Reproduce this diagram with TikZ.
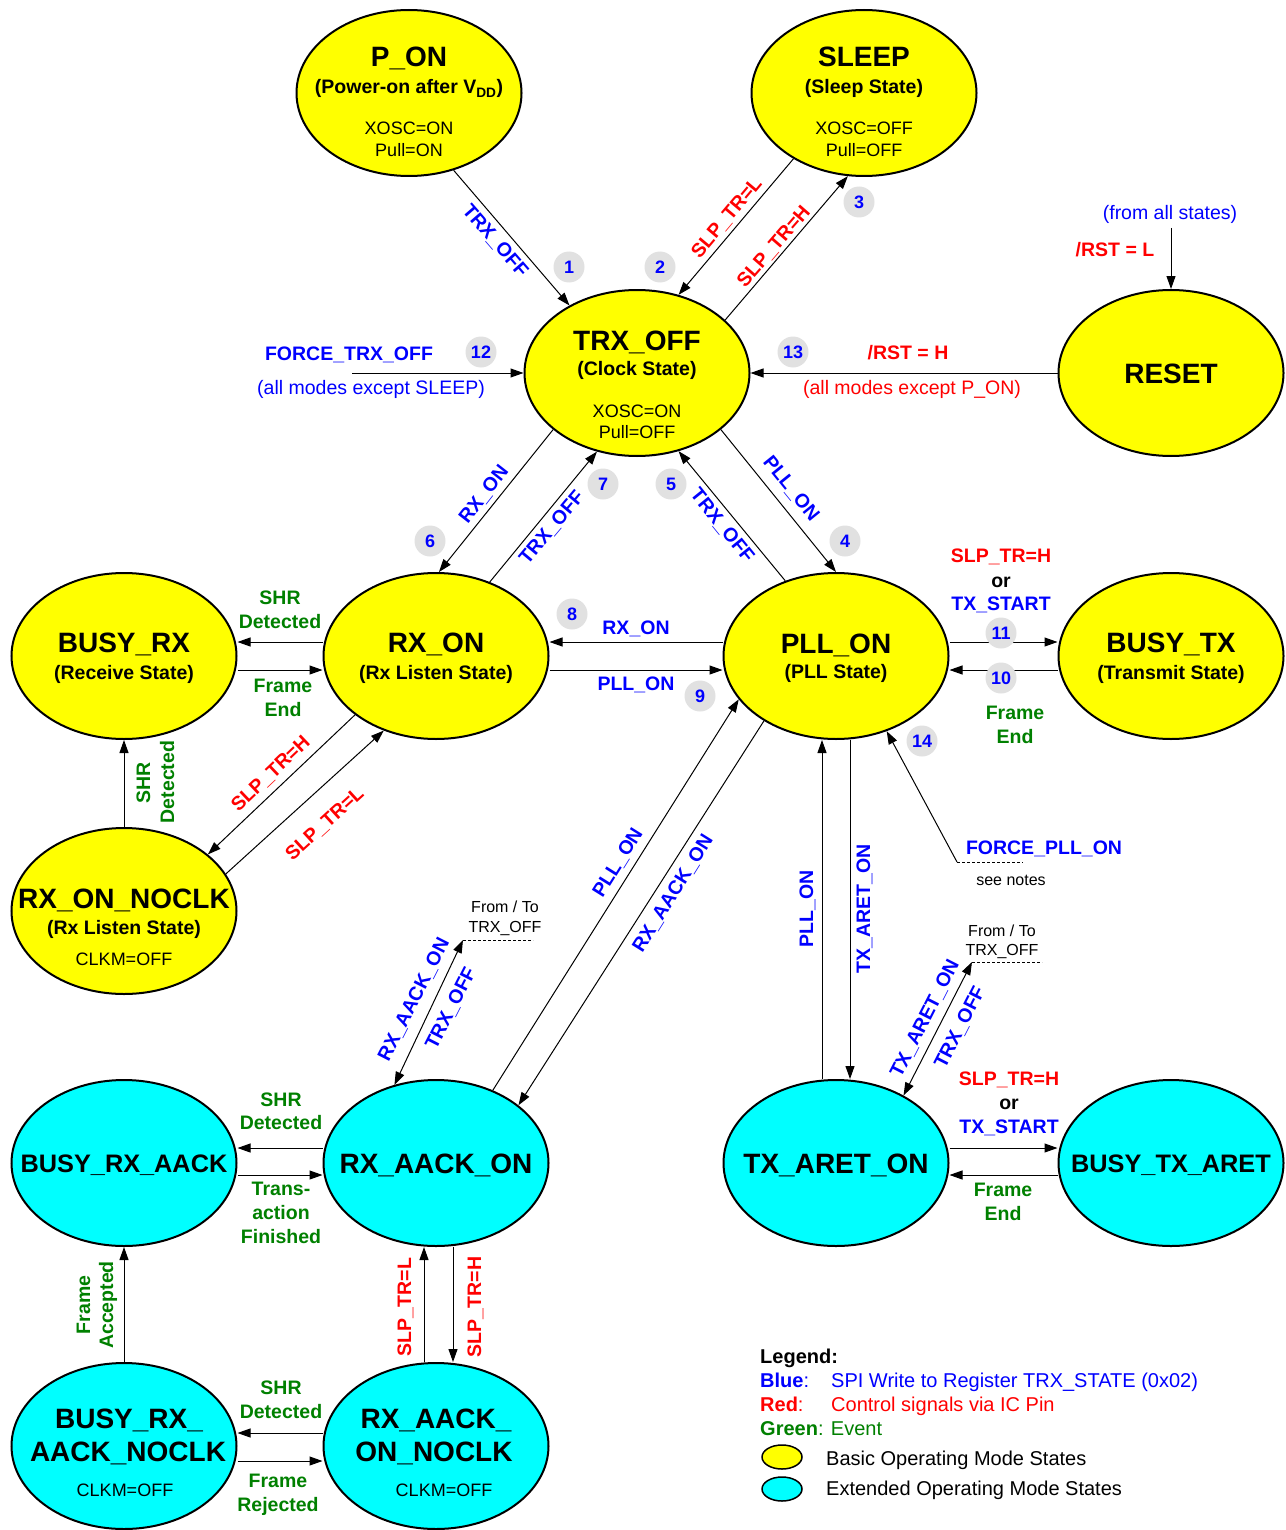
\documentclass[tikz,border=0pt]{standalone}
\usepackage{fontspec}
\setmainfont{Liberation Sans}
\usetikzlibrary{arrows.meta,calc,shapes.geometric}
\definecolor{cblue}{RGB}{0,0,255}
\definecolor{cred}{RGB}{255,0,0}
\definecolor{cgreen}{RGB}{0,128,0}
\definecolor{cyel}{RGB}{255,255,0}
\definecolor{ccyan}{RGB}{0,255,255}
\definecolor{cbadge}{RGB}{225,225,225}
\newcommand\fTitle{\fontsize{28}{32}\selectfont\bfseries}
\newcommand\fTitleS{\fontsize{25.3}{30}\selectfont\bfseries}
\newcommand\fSub{\fontsize{19.5}{24}\selectfont\bfseries}
\newcommand\fReg{\fontsize{18}{22}\selectfont}
\newcommand\fLab{\fontsize{19.5}{24}\selectfont\bfseries}
\newcommand\fBadge{\fontsize{18}{22}\selectfont\bfseries}
\newcommand\fNote{\fontsize{16}{20}\selectfont}
\newcommand\fPlain{\fontsize{19.5}{24}\selectfont}
\newcommand\fLegd{\fontsize{20}{24}\selectfont}
\begin{document}
\begin{tikzpicture}[x=1pt,y=-1pt,
  st/.style={ellipse,draw=black,line width=2pt,minimum width=225pt,minimum height=166pt,inner sep=0pt},
  basic/.style={st,fill=cyel},
  ext/.style={st,fill=ccyan},
  tt/.style={font=\fTitle,inner sep=0pt,text height=20pt,text depth=0pt},
  tts/.style={font=\fTitleS,inner sep=0pt,text height=18pt,text depth=0pt},
  sb/.style={font=\fSub,inner sep=0pt,text height=14pt,text depth=0pt},
  rg/.style={font=\fReg,inner sep=0pt,text height=13pt,text depth=0pt},
  lb/.style={font=\fLab,inner sep=0pt,text height=14pt,text depth=0pt},
  pl/.style={font=\fPlain,inner sep=0pt,text height=14pt,text depth=0pt},
  lgd/.style={font=\fLegd,inner sep=0pt,text height=14pt,text depth=0pt,anchor=west},
  nt/.style={font=\fNote,inner sep=0pt,text height=11.5pt,text depth=0pt},
  bl/.style={text=cblue}, rd/.style={text=cred}, gn/.style={text=cgreen},
  arr/.style={draw=black,line width=1pt,-{Triangle[length=13pt,width=9pt]}},
  darr/.style={draw=black,line width=1pt,{Triangle[length=13pt,width=9pt]}-{Triangle[length=13pt,width=9pt]}},
  dsh/.style={draw=black,line width=1pt,dash pattern=on 3pt off 2pt},
  bdg/.style={circle,fill=cbadge,minimum size=31pt,inner sep=0pt,font=\fBadge,text=cblue,text height=13pt,text depth=0pt},
]
\useasboundingbox (0,0) rectangle (1285,1530);

% ---------- states ----------
\node[basic] (pon) at (409,93) {};
\node[basic] (sleep) at (864,93) {};
\node[basic] (trxoff) at (637,373) {};
\node[basic] (reset) at (1171,373) {};
\node[basic] (busyrx) at (124,656) {};
\node[basic] (rxon) at (436,656) {};
\node[basic] (pllon) at (836,656) {};
\node[basic] (busytx) at (1171,656) {};
\node[basic] (rxonnoclk) at (124,911) {};
\node[ext] (busyrxaack) at (124,1163) {};
\node[ext] (rxaackon) at (436,1163) {};
\node[ext] (txareton) at (836,1163) {};
\node[ext] (busytxaret) at (1171,1163) {};
\node[ext] (busyrxaacknoclk) at (124,1446) {};
\node[ext] (rxaackonnoclk) at (436,1446) {};

% ---------- state texts ----------
\node[tt] (pon-t) at ($(pon)+(0,-36)$) {P\_ON};
\node[sb] (pon-s) at ($(pon)+(0,-6)$) {(Power-on after V\textsubscript{DD})};
\node[rg] (pon-x) at ($(pon)+(0,35)$) {XOSC=ON};
\node[rg] (pon-p) at ($(pon)+(0,57)$) {Pull=ON};

\node[tt] (sleep-t) at ($(sleep)+(0,-36)$) {SLEEP};
\node[sb] (sleep-s) at ($(sleep)+(0,-6)$) {(Sleep State)};
\node[rg] (sleep-x) at ($(sleep)+(0,35)$) {XOSC=OFF};
\node[rg] (sleep-p) at ($(sleep)+(0,57)$) {Pull=OFF};

\node[tt] (trxoff-t) at ($(trxoff)+(0,-33)$) {TRX\_OFF};
\node[sb] (trxoff-s) at ($(trxoff)+(0,-5)$) {(Clock State)};
\node[rg] (trxoff-x) at ($(trxoff)+(0,38)$) {XOSC=ON};
\node[rg] (trxoff-p) at ($(trxoff)+(0,59)$) {Pull=OFF};

\node[tt] (reset-t) at (reset) {RESET};

\node[tt] (busyrx-t) at ($(busyrx)+(0,-14)$) {BUSY\_RX};
\node[sb] (busyrx-s) at ($(busyrx)+(0,16)$) {(Receive State)};
\node[tt] (rxon-t) at ($(rxon)+(0,-14)$) {RX\_ON};
\node[sb] (rxon-s) at ($(rxon)+(0,16)$) {(Rx Listen State)};
\node[tt] (pllon-t) at ($(pllon)+(0,-13)$) {PLL\_ON};
\node[sb] (pllon-s) at ($(pllon)+(0,15)$) {(PLL State)};
\node[tt] (busytx-t) at ($(busytx)+(0,-14)$) {BUSY\_TX};
\node[sb] (busytx-s) at ($(busytx)+(0,16)$) {(Transmit State)};

\node[tt] (rxonnoclk-t) at ($(rxonnoclk)+(0,-13)$) {RX\_ON\_NOCLK};
\node[sb] (rxonnoclk-s) at ($(rxonnoclk)+(0,16)$) {(Rx Listen State)};
\node[rg] (rxonnoclk-c) at ($(rxonnoclk)+(0,48)$) {CLKM=OFF};

\node[tts] (busyrxaack-t) at (busyrxaack) {BUSY\_RX\_AACK};
\node[tt] (rxaackon-t) at (rxaackon) {RX\_AACK\_ON};
\node[tt] (txareton-t) at (txareton) {TX\_ARET\_ON};
\node[tts] (busytxaret-t) at (busytxaret) {BUSY\_TX\_ARET};

\node[tt] (brn-a) at ($(busyrxaacknoclk)+(5,-28)$) {BUSY\_RX\_};
\node[tt] (brn-b) at ($(busyrxaacknoclk)+(4,5)$) {AACK\_NOCLK};
\node[rg] (brn-c) at ($(busyrxaacknoclk)+(1,44)$) {CLKM=OFF};
\node[tt] (ran-a) at ($(rxaackonnoclk)+(0,-28)$) {RX\_AACK\_};
\node[tt] (ran-b) at ($(rxaackonnoclk)+(-2,5)$) {ON\_NOCLK};
\node[rg] (ran-c) at ($(rxaackonnoclk)+(8,44)$) {CLKM=OFF};

% ---------- free ends ----------
\coordinate (rstin) at (1171,228);
\coordinate (f12) at (352,373);
\coordinate (f14) at (957,862);
\coordinate (f14e) at (1023,862);
\coordinate (rs) at (463,940);
\coordinate (rse) at (533,940);
\coordinate (ts) at (972,962);
\coordinate (tse) at (1042,962);

% ---------- connectors ----------
\draw[arr] (pon.-60) -- (trxoff.135);
\draw[arr] (sleep.223) -- (trxoff.62);
\draw[arr] (trxoff.31) -- (sleep.259);
\draw[arr] (rstin) -- (reset.north);
\draw[arr] (f12) -- (trxoff.west);
\draw[arr] (reset.west) -- (trxoff.east);
\draw[arr] (trxoff.214) -- (rxon.88);
\draw[arr] (rxon.54) -- (trxoff.243);
\draw[arr] (pllon.124) -- (trxoff.-62);
\draw[arr] (trxoff.-34) -- (pllon.90);

\draw[arr] ([yshift=14pt]pllon.west) -- ([yshift=14pt]rxon.east);
\draw[arr] ([yshift=-14pt]rxon.east) -- ([yshift=-14pt]pllon.west);
\draw[arr] ([yshift=14pt]pllon.east) -- ([yshift=14pt]busytx.west);
\draw[arr] ([yshift=-14pt]busytx.west) -- ([yshift=-14pt]pllon.east);
\draw[arr] ([yshift=14pt]rxon.west) -- ([yshift=14pt]busyrx.east);
\draw[arr] ([yshift=-14pt]busyrx.east) -- ([yshift=-14pt]rxon.west);

\draw[arr] (rxonnoclk.north) -- (busyrx.south);
\draw[arr] (rxon.216) -- (rxonnoclk.34);
\draw[arr] (rxonnoclk.20) -- (rxon.235);

\draw[arr] (f14) -- (pllon.-56);
\draw[dsh] (f14) -- (f14e);

\draw[arr] ([xshift=-14pt]txareton.north) -- ([xshift=-14pt]pllon.south);
\draw[arr] ([xshift=14pt]pllon.south) -- ([xshift=14pt]txareton.north);
\draw[arr] (rxaackon.52) -- (pllon.204);
\draw[arr] (pllon.222) -- (rxaackon.35);

\draw[darr] (rxaackon.118) -- (rs);
\draw[dsh] (rs) -- (rse);
\draw[darr] (txareton.45) -- (ts);
\draw[dsh] (ts) -- (tse);

\draw[arr] ([yshift=15pt]txareton.east) -- ([yshift=15pt]busytxaret.west);
\draw[arr] ([yshift=-12pt]busytxaret.west) -- ([yshift=-12pt]txareton.east);
\draw[arr] ([yshift=15pt]rxaackon.west) -- ([yshift=15pt]busyrxaack.east);
\draw[arr] ([yshift=-12pt]busyrxaack.east) -- ([yshift=-12pt]rxaackon.west);

\draw[arr] (busyrxaacknoclk.north) -- (busyrxaack.south);
\draw[arr] ([xshift=-12pt]rxaackonnoclk.north) -- ([xshift=-12pt]rxaackon.south);
\draw[arr] ([xshift=17pt]rxaackon.south) -- ([xshift=17pt]rxaackonnoclk.north);
\draw[arr] ([yshift=13pt]rxaackonnoclk.west) -- ([yshift=13pt]busyrxaacknoclk.east);
\draw[arr] ([yshift=-15pt]busyrxaacknoclk.east) -- ([yshift=-15pt]rxaackonnoclk.west);

% ---------- badges ----------
\node[bdg] (b1) at (569,267) {1};
\node[bdg] (b2) at (660,267) {2};
\node[bdg] (b3) at (859,202) {3};
\node[bdg] (b4) at (845,541) {4};
\node[bdg] (b5) at (671,484) {5};
\node[bdg] (b6) at (430,541) {6};
\node[bdg] (b7) at (603,484) {7};
\node[bdg] (b8) at (572,614) {8};
\node[bdg] (b9) at (700,696) {9};
\node[bdg] (b10) at (1001,678) {10};
\node[bdg] (b11) at (1001,633) {11};
\node[bdg] (b12) at (481,352) {12};
\node[bdg] (b13) at (793,352) {13};
\node[bdg] (b14) at (922,741) {14};

% ---------- labels ----------
\node[lb,bl,rotate=-49] (l1) at (496,240) {TRX\_OFF};
\node[lb,rd,rotate=50] (l2) at (726,217) {SLP\_TR=L};
\node[lb,rd,rotate=49] (l3) at (773,246) {SLP\_TR=H};
\node[pl,bl] (lrst1) at (1170,213) {(from all states)};
\node[lb,rd] (lrst2) at (1115,250) {/RST = L};
\node[lb,bl] (l12a) at (349,353) {FORCE\_TRX\_OFF};
\node[pl,bl] (l12b) at (371,387) {(all modes except SLEEP)};
\node[lb,rd] (l13a) at (908,352) {/RST = H};
\node[pl,rd] (l13b) at (912,387) {(all modes except P\_ON)};
\node[lb,bl,rotate=52] (l6) at (483,494) {RX\_ON};
\node[lb,bl,rotate=50] (l7) at (551,527) {TRX\_OFF};
\node[lb,bl,rotate=-51] (l5) at (723,525) {TRX\_OFF};
\node[lb,bl,rotate=-51] (l4) at (792,488) {PLL\_ON};
\node[lb,bl] (l8) at (636,627) {RX\_ON};
\node[lb,bl] (l9) at (636,683) {PLL\_ON};
\node[lb,rd] (l11a) at (1001,555) {SLP\_TR=H};
\node[lb] (l11b) at (1001,580) {or};
\node[lb,bl] (l11c) at (1001,603) {TX\_START};
\node[lb,gn] (l10a) at (1015,712) {Frame};
\node[lb,gn] (l10b) at (1015,736) {End};
\node[lb,gn] (lsa) at (280,597) {SHR};
\node[lb,gn] (lsb) at (280,621) {Detected};
\node[lb,gn] (lfa) at (283,685) {Frame};
\node[lb,gn] (lfb) at (283,709) {End};
\node[lb,gn,rotate=90] (lva) at (143,783) {SHR};
\node[lb,gn,rotate=90] (lvb) at (167,782) {Detected};
\node[lb,rd,rotate=43.6] (lnh) at (270,773) {SLP\_TR=H};
\node[lb,rd,rotate=42.4] (lnl) at (324,823) {SLP\_TR=L};
\node[lb,bl] (l14) at (1044,847) {FORCE\_PLL\_ON};
\node[nt] (l14n) at (1011,880) {see notes};
\node[lb,bl,rotate=58] (lpl) at (617,862) {PLL\_ON};
\node[lb,bl,rotate=58] (lra) at (672,893) {RX\_AACK\_ON};
\node[lb,bl,rotate=90] (lvp) at (806,909) {PLL\_ON};
\node[lb,bl,rotate=90] (lvt) at (863,909) {TX\_ARET\_ON};
\node[lb,bl,rotate=63] (lrs1) at (413,999) {RX\_AACK\_ON};
\node[lb,bl,rotate=63] (lrs2) at (450,1008) {TRX\_OFF};
\node[nt] (lrs3) at (505,907) {From / To};
\node[nt] (lrs4) at (505,927) {TRX\_OFF};
\node[lb,bl,rotate=63] (lts1) at (924,1018) {TX\_ARET\_ON};
\node[lb,bl,rotate=63] (lts2) at (959,1027) {TRX\_OFF};
\node[nt] (lts3) at (1002,931) {From / To};
\node[nt] (lts4) at (1002,950) {TRX\_OFF};
\node[lb,rd] (lta) at (1009,1078) {SLP\_TR=H};
\node[lb] (ltb) at (1009,1102) {or};
\node[lb,bl] (ltc) at (1009,1126) {TX\_START};
\node[lb,gn] (ltfa) at (1003,1189) {Frame};
\node[lb,gn] (ltfb) at (1003,1213) {End};
\node[lb,gn] (lasa) at (281,1099) {SHR};
\node[lb,gn] (lasb) at (281,1122) {Detected};
\node[lb,gn] (lata) at (281,1188) {Trans-};
\node[lb,gn] (latb) at (281,1212) {action};
\node[lb,gn] (latc) at (281,1236) {Finished};
\node[lb,gn,rotate=90] (lfaa) at (83,1305) {Frame};
\node[lb,gn,rotate=90] (lfab) at (106,1305) {Accepted};
\node[lb,rd,rotate=90] (lsl) at (404,1307) {SLP\_TR=L};
\node[lb,rd,rotate=90] (lsh) at (474,1307) {SLP\_TR=H};
\node[lb,gn] (lnsa) at (281,1387) {SHR};
\node[lb,gn] (lnsb) at (281,1411) {Detected};
\node[lb,gn] (lnra) at (278,1480) {Frame};
\node[lb,gn] (lnrb) at (278,1504) {Rejected};

% ---------- legend ----------
\node[lgd] (lg0) at (760,1356) {\bfseries Legend:};
\node[lgd,bl] (lg1a) at (760,1380) {{\bfseries Blue}:};
\node[lgd,bl] (lg1b) at (831,1380) {SPI Write to Register TRX\_STATE (0x02)};
\node[lgd,rd] (lg2a) at (760,1404) {{\bfseries Red}:};
\node[lgd,rd] (lg2b) at (831,1404) {Control signals via IC Pin};
\node[lgd,gn] (lg3) at (760,1428) {{\bfseries Green}: Event};
\node[ellipse,draw=black,line width=1.5pt,fill=cyel,minimum width=40pt,minimum height=24pt,inner sep=0pt] (lgy) at (782,1457) {};
\node[ellipse,draw=black,line width=1.5pt,fill=ccyan,minimum width=40pt,minimum height=24pt,inner sep=0pt] (lgc) at (782,1489) {};
\node[lgd] (lg4) at (826,1458) {Basic Operating Mode States};
\node[lgd] (lg5) at (826,1488) {Extended Operating Mode States};
\end{tikzpicture}
\end{document}
